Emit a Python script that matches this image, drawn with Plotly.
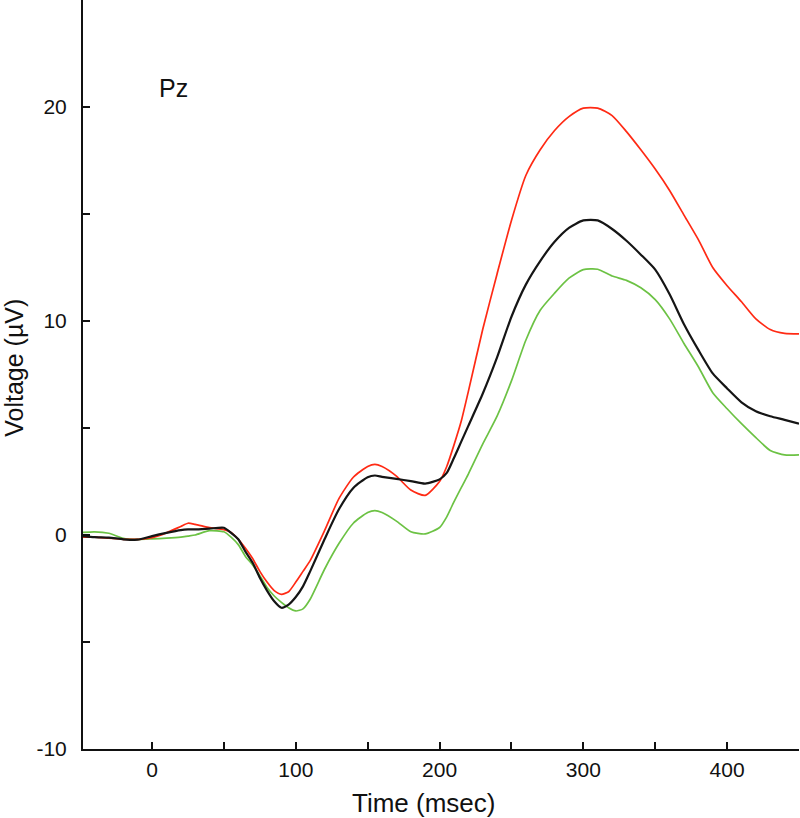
import plotly.graph_objects as go

time_ms = [-48, -40, -30, -20, -10, 0, 10, 20, 25, 30, 40, 50, 55, 60, 65, 70, 75, 80, 85, 90, 95,
           100, 105, 110, 120, 130, 140, 150, 155, 160, 170, 180, 190, 200, 205, 210, 215, 220,
           230, 240, 250, 260, 270, 280, 290, 300, 310, 320, 330, 340, 350, 360, 370, 380, 390,
           400, 410, 420, 430, 440, 450]

red_uv = [-0.1, -0.1, -0.15, -0.2, -0.2, -0.12, 0.1, 0.4, 0.55, 0.5, 0.35, 0.25, 0.12, -0.2, -0.62,
          -1.1, -1.7, -2.2, -2.6, -2.77, -2.65, -2.2, -1.7, -1.2, 0.2, 1.7, 2.7, 3.2, 3.3, 3.2,
          2.75, 2.1, 1.85, 2.5, 3.2, 4.2, 5.3, 6.7, 9.6, 12.2, 14.7, 16.8, 18.0, 18.9, 19.55,
          19.95, 19.95, 19.6, 18.85, 18.0, 17.1, 16.1, 14.95, 13.8, 12.5, 11.65, 10.9, 10.1, 9.6,
          9.42, 9.4]

black_uv = [-0.05, -0.1, -0.12, -0.2, -0.22, -0.05, 0.1, 0.23, 0.26, 0.26, 0.3, 0.34, 0.1, -0.2,
            -0.78, -1.3, -2.0, -2.6, -3.1, -3.4, -3.25, -2.9, -2.4, -1.7, -0.2, 1.2, 2.2, 2.7,
            2.78, 2.72, 2.62, 2.52, 2.4, 2.6, 2.9, 3.6, 4.35, 5.1, 6.6, 8.3, 10.2, 11.7, 12.8,
            13.7, 14.35, 14.7, 14.7, 14.3, 13.75, 13.1, 12.4, 11.25, 9.85, 8.65, 7.55, 6.85, 6.2,
            5.78, 5.55, 5.38, 5.2]

green_uv = [0.12, 0.15, 0.08, -0.15, -0.2, -0.18, -0.15, -0.1, -0.05, 0.0, 0.2, 0.15, -0.1, -0.45,
            -1.0, -1.4, -1.9, -2.45, -2.85, -3.15, -3.4, -3.55, -3.45, -3.0, -1.6, -0.4, 0.55,
            1.05, 1.14, 1.05, 0.65, 0.15, 0.05, 0.35, 0.85, 1.55, 2.2, 2.85, 4.25, 5.55, 7.2, 9.1,
            10.5, 11.3, 12.0, 12.4, 12.42, 12.1, 11.9, 11.55, 11.0, 10.1, 8.95, 7.86, 6.65, 5.9,
            5.2, 4.55, 3.95, 3.74, 3.74]

y_tickvals = [-10, -5, 0, 5, 10, 15, 20, 25]
y_ticktext = ["-10", "", "0", "", "10", "", "20", ""]
x_tickvals = [0, 50, 100, 150, 200, 250, 300, 350, 400, 450]
x_ticktext = ["0", "", "100", "", "200", "", "300", "", "400", ""]

FONT = "Liberation Sans, Arial, sans-serif"
INK = "#111111"

fig = go.Figure()
fig.add_trace(go.Scatter(x=time_ms, y=green_uv, mode="lines",
                         line=dict(color="#6cc244", width=1.7, shape="spline", smoothing=0.6)))
fig.add_trace(go.Scatter(x=time_ms, y=red_uv, mode="lines",
                         line=dict(color="#ff2a14", width=1.7, shape="spline", smoothing=0.6)))
fig.add_trace(go.Scatter(x=time_ms, y=black_uv, mode="lines",
                         line=dict(color="#151515", width=2.2, shape="spline", smoothing=0.6)))

fig.add_annotation(x=15, y=20.9, text="Pz", showarrow=False,
                   font=dict(family=FONT, size=25, color=INK))
fig.add_annotation(xref="paper", yref="paper", x=0.476, y=0, yanchor="middle",
                   yshift=-54, text="Time (msec)", showarrow=False,
                   font=dict(family=FONT, size=26, color=INK))
fig.add_annotation(xref="paper", yref="paper", x=0, y=0.509, xanchor="center",
                   yanchor="middle", xshift=-69, textangle=-90, text="Voltage (µV)",
                   showarrow=False, font=dict(family=FONT, size=25, color=INK))

fig.update_layout(
    width=800, height=818,
    margin=dict(l=83, r=1, t=0, b=69, autoexpand=False),
    paper_bgcolor="white", plot_bgcolor="white",
    showlegend=False,
    font=dict(family=FONT, size=21, color=INK),
    xaxis=dict(range=[-48, 450], tickvals=x_tickvals, ticktext=x_ticktext,
               ticks="inside", ticklen=7, tickwidth=2, tickcolor=INK,
               showline=True, linecolor=INK, linewidth=2, showgrid=False, zeroline=False,
               automargin=False, ticklabelstandoff=1,
               tickfont=dict(size=21)),
    yaxis=dict(range=[-10, 25], tickvals=y_tickvals, ticktext=y_ticktext,
               ticks="inside", ticklen=7, tickwidth=2, tickcolor=INK,
               showline=True, linecolor=INK, linewidth=2, showgrid=False, zeroline=False,
               automargin=False, ticklabelstandoff=10,
               tickfont=dict(size=21)),
)

fig.write_html("out.html", config={"displayModeBar": False},
               post_script="document.body.style.margin='0';document.body.style.overflow='hidden';")
